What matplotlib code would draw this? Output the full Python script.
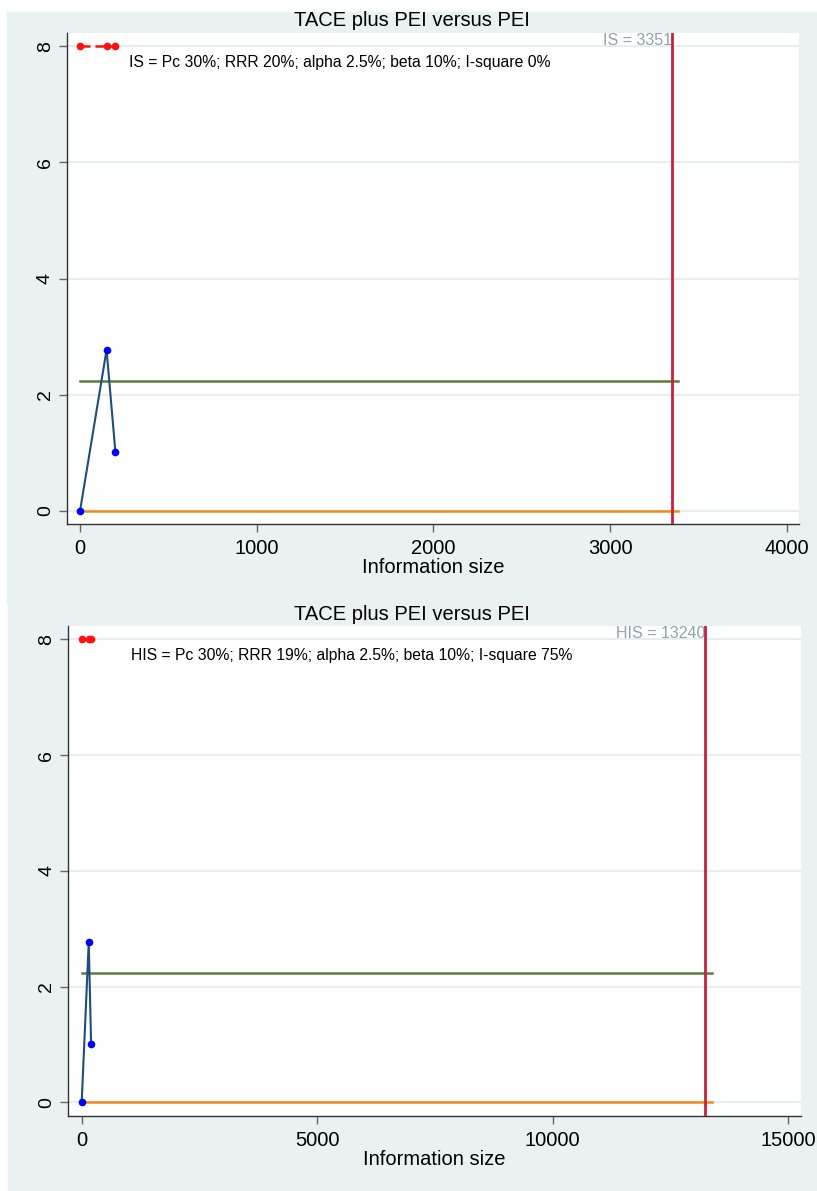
import numpy as np
import matplotlib.pyplot as plt
from matplotlib.patches import Rectangle

plt.rcParams['font.family'] = ['Liberation Sans', 'DejaVu Sans']

# cumulative information size and z-values of the trials
info = [0, 150, 200]
zcum = [0, 2.77, 1.01]
# red markers on top (trial positions)
red_x = [0, 150, 200]

boundary = 2.24
panel_titles = ["TACE plus PEI versus PEI", "TACE plus PEI versus PEI"]
req_sizes = [3351, 13240]
req_labels = ["IS = 3351", "HIS = 13240"]
notes = ["IS = Pc 30%; RRR 20%; alpha 2.5%; beta 10%; I-square 0%",
         "HIS = Pc 30%; RRR 19%; alpha 2.5%; beta 10%; I-square 75%"]
x_ticks = [[0, 1000, 2000, 3000, 4000], [0, 5000, 10000, 15000]]
x_lims = [(-74, 4069), (-284, 15262)]

bg = '#eaf1f3'
fig = plt.figure(figsize=(8.17, 11.91), dpi=100)
W, H = 817, 1191

# panel backgrounds
fig.patches.append(Rectangle((7 / W, 1 - 603 / H), 810 / W, 591 / H,
                             transform=fig.transFigure, color=bg, zorder=-10))
fig.patches.append(Rectangle((8 / W, 0), 809 / W, 1 - 603 / H,
                             transform=fig.transFigure, color=bg, zorder=-10))

boxes = [(67, 33, 799, 524), (68.3, 626, 800.7, 1115.7)]
title_y = [21, 614]

for i in range(2):
    l, t, r, b = boxes[i]
    ax = fig.add_axes([l / W, 1 - b / H, (r - l) / W, (b - t) / H])
    ax.set_facecolor('white')
    ax.set_xlim(*x_lims[i])
    ax.set_ylim(-0.23, 8.23)

    ax.set_yticks([0, 2, 4, 6, 8])
    ax.set_xticks(x_ticks[i])
    ax.grid(axis='y', color='#e6eef1', linewidth=1.5)
    ax.set_axisbelow(True)
    for s in ['top', 'right']:
        ax.spines[s].set_visible(False)
    for s in ['left', 'bottom']:
        ax.spines[s].set_color('#333333')
        ax.spines[s].set_linewidth(1.0)
    ax.tick_params(axis='both', direction='out', length=6, color='#666666',
                   labelsize=14.5, width=1)
    ax.tick_params(axis='x', pad=5)
    ax.tick_params(axis='y', labelsize=14)
    for lab in ax.get_yticklabels():
        lab.set_rotation(90)
        lab.set_va('center')

    n = req_sizes[i]
    ext = n * 1.01
    ax.plot([0, ext], [boundary, boundary], color='#5a7d3a', lw=1.8, zorder=3)
    ax.plot([0, ext], [0, 0], color='#f08a1c', lw=1.8, zorder=3)
    ax.axvline(n, color='#c8203d', lw=2, zorder=4)

    ax.plot(info, zcum, color='#1f4e79', lw=1.5, marker='o', ms=4.5,
            mfc='#0000ff', mec='#0000ff', zorder=5)
    ax.plot(red_x, [8] * len(red_x), color='#ff1010', lw=1.8,
            linestyle=(0, (4, 2)), marker='o', ms=4.5, zorder=5)

    ax.text(n, 8.23, req_labels[i], ha='right', va='top', fontsize=11.5,
            color='#8fa3a8')
    ax.text(0.085, 0.94, notes[i], transform=ax.transAxes, fontsize=11.3,
            ha='left', va='center')
    fig.text(412 / W, 1 - title_y[i] / H, panel_titles[i], fontsize=14.5,
             ha='center', va='center')
    ax.set_xlabel("Information size", fontsize=14.5, labelpad=0)

fig.savefig('out.png', dpi=100)
